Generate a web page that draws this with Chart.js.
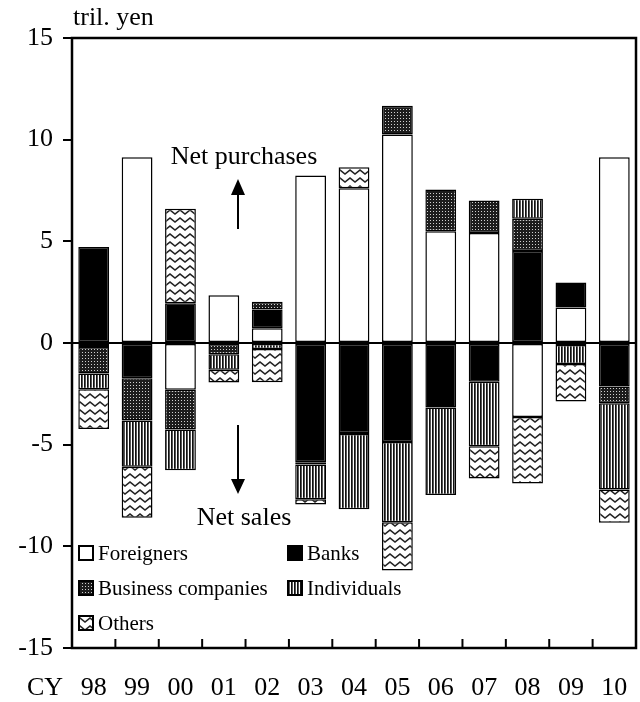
<!DOCTYPE html>
<html>
<head>
<meta charset="utf-8">
<script src="https://cdn.jsdelivr.net/npm/chart.js@4.4.1/dist/chart.umd.min.js"></script>
<style>
  body { margin: 0; background: #fff; }
  #wrap { width: 640px; height: 702px; }
</style>
</head>
<body>
<div id="wrap"><canvas id="stockChart" width="640" height="702"></canvas></div>
<script>
const years = ["98", "99", "00", "01", "02", "03", "04", "05", "06", "07", "08", "09", "10"];
const foreigners = [-0.2, 9.13, -2.3, 2.35, 0.72, 8.24, 7.61, 10.25, 5.5, 5.41, -3.64, 1.75, 9.13];
const banks = [4.72, -1.73, 1.95, 0, 0.93, -5.87, -4.43, -4.87, -3.17, -1.9, 4.53, 1.22, -2.14];
const businessCos = [-1.3, -2.08, -1.96, -0.55, 0.38, -0.1, -0.05, 1.42, 2.05, 1.6, 1.58, -0.1, -0.82];
const individuals = [-0.78, -2.28, -2.0, -0.77, -0.3, -1.72, -3.7, -3.94, -4.31, -3.18, 0.98, -0.93, -4.24];
const others = [-1.95, -2.51, 4.65, -0.62, -1.63, -0.25, 1.03, -2.38, 0, -1.59, -3.27, -1.85, -1.64];
const yTicks = [-15, -10, -5, 0, 5, 10, 15];

const SERIF = "'Liberation Serif', 'Times New Roman', serif";
Chart.defaults.font.family = SERIF;
Chart.defaults.color = "#000";

function makePattern(w, h, draw) {
  const c = document.createElement("canvas");
  c.width = w;
  c.height = h;
  const g = c.getContext("2d");
  draw(g);
  return g.createPattern(c, "repeat");
}

// dark dotted fill
const dotted = makePattern(3, 3, (g) => {
  g.fillStyle = "#1c1c1c";
  g.fillRect(0, 0, 3, 3);
  g.fillStyle = "#cfcfcf";
  g.fillRect(1, 1, 1, 1);
});

// vertical stripes
const striped = makePattern(3, 3, (g) => {
  g.fillStyle = "#fff";
  g.fillRect(0, 0, 3, 3);
  g.fillStyle = "#111";
  g.fillRect(0, 0, 1, 3);
  g.fillStyle = "#555";
  g.fillRect(1, 0, 1, 3);
});

// wavy lines
const wavy = makePattern(10, 8, (g) => {
  g.fillStyle = "#fff";
  g.fillRect(0, 0, 10, 8);
  g.strokeStyle = "#222";
  g.lineWidth = 1.6;
  g.beginPath();
  g.moveTo(-2.5, 4);
  g.lineTo(0, 2);
  g.lineTo(5, 6);
  g.lineTo(10, 2);
  g.lineTo(12.5, 4);
  g.stroke();
});

const series = [
  { label: "Foreigners", data: foreigners, fill: "#fff" },
  { label: "Banks", data: banks, fill: "#000" },
  { label: "Business companies", data: businessCos, fill: dotted },
  { label: "Individuals", data: individuals, fill: striped },
  { label: "Others", data: others, fill: wavy },
];

const framePlugin = {
  id: "frame",
  afterDatasetsDraw(chart) {
    const { ctx, chartArea: a, scales } = chart;
    const x = scales.x;
    const y0 = scales.y.getPixelForValue(0);
    ctx.save();
    ctx.strokeStyle = "#000";
    // zero line
    ctx.lineWidth = 2;
    ctx.beginPath();
    ctx.moveTo(a.left, y0);
    ctx.lineTo(a.right, y0);
    ctx.stroke();
    // frame
    ctx.lineWidth = 2.5;
    ctx.strokeRect(a.left, a.top, a.right - a.left, a.bottom - a.top);
    // inner category ticks
    ctx.lineWidth = 2;
    for (let i = 1; i < years.length; i++) {
      const px = (x.getPixelForValue(i - 1) + x.getPixelForValue(i)) / 2;
      ctx.beginPath();
      ctx.moveTo(px, a.bottom);
      ctx.lineTo(px, a.bottom - 9);
      ctx.stroke();
    }
    ctx.restore();
  },
  afterDraw(chart) {
    const { ctx, chartArea: a } = chart;
    ctx.save();
    ctx.fillStyle = "#000";
    ctx.strokeStyle = "#000";
    ctx.font = `26px ${SERIF}`;
    ctx.textBaseline = "middle";
    ctx.textAlign = "left";
    ctx.fillText("tril. yen", a.left + 1, 18);
    ctx.fillText("CY", 27, 688);

    // annotations
    ctx.textAlign = "center";
    ctx.fillText("Net purchases", 244, 157);
    ctx.fillText("Net sales", 244, 518);
    ctx.lineWidth = 2;
    ctx.beginPath();
    ctx.moveTo(238, 229);
    ctx.lineTo(238, 192);
    ctx.moveTo(238, 425);
    ctx.lineTo(238, 482);
    ctx.stroke();
    ctx.beginPath();
    ctx.moveTo(238, 179);
    ctx.lineTo(231, 195);
    ctx.lineTo(245, 195);
    ctx.closePath();
    ctx.moveTo(238, 494);
    ctx.lineTo(231, 479);
    ctx.lineTo(245, 479);
    ctx.closePath();
    ctx.fill();

    // legend
    const rows = [
      [0, 553, 79], [1, 553, 288],
      [2, 588, 79], [3, 588, 288],
      [4, 623, 79],
    ];
    ctx.font = `21px ${SERIF}`;
    ctx.textAlign = "left";
    rows.forEach(([i, cy, bx]) => {
      const s = series[i];
      ctx.fillStyle = s.fill;
      ctx.fillRect(bx, cy - 7, 14, 14);
      ctx.lineWidth = 2;
      ctx.strokeRect(bx, cy - 7, 14, 14);
      ctx.fillStyle = "#000";
      ctx.fillText(s.label, bx + 19, cy + 1);
    });
    ctx.restore();
  },
};

new Chart(document.getElementById("stockChart"), {
  type: "bar",
  data: {
    labels: years,
    datasets: series.map((s) => ({
      label: s.label,
      data: s.data,
      backgroundColor: s.fill,
      borderColor: "#000",
      borderWidth: 1.5,
      borderSkipped: false,
      barPercentage: 0.71,
      categoryPercentage: 1,
    })),
  },
  options: {
    responsive: false,
    animation: false,
    layout: { padding: { top: 38, right: 4, left: 0, bottom: 0 } },
    plugins: { legend: { display: false }, tooltip: { enabled: false } },
    scales: {
      x: {
        stacked: true,
        // invisible ticks just push the labels down
        grid: { drawOnChartArea: false, drawTicks: true, tickLength: 25, color: "rgba(0,0,0,0)" },
        border: { display: false },
        ticks: { font: { size: 26 }, padding: 0, maxRotation: 0 },
        afterFit: (s) => { s.height = 54; },
      },
      y: {
        stacked: true,
        min: -15,
        max: 15,
        afterBuildTicks: (s) => { s.ticks = yTicks.map((v) => ({ value: v })); },
        grid: { drawOnChartArea: false, drawTicks: true, tickLength: 9, lineWidth: 2, color: "#000" },
        border: { display: false },
        ticks: { font: { size: 26 }, padding: 10 },
        afterFit: (s) => { s.width = 72; },
      },
    },
  },
  plugins: [framePlugin],
});
</script>
</body>
</html>
